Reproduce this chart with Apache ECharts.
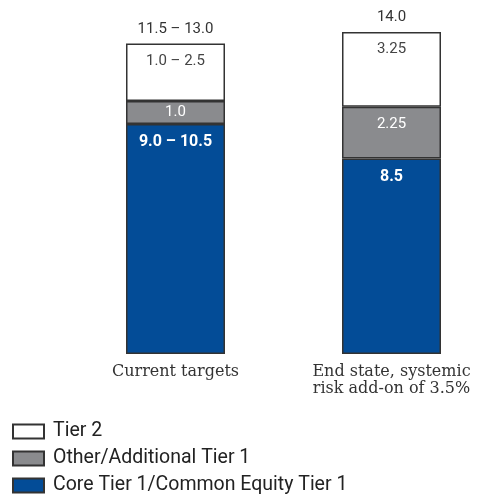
<!DOCTYPE html>
<html><head><meta charset="utf-8">
<script src="https://cdn.jsdelivr.net/npm/echarts@6/dist/echarts.min.js"></script>
<style>html,body{margin:0;padding:0;background:#fff;}#c{width:480px;height:495px;}</style>
</head><body><div id="c"></div>
<script>
var categories = ['Current targets', 'End state, systemic\nrisk add-on of 3.5%'];
var seriesNames = ['Tier 2', 'Other/Additional Tier 1', 'Core Tier 1/Common Equity Tier 1'];
var coreValues = [10.0, 8.5];
var otherValues = [1.0, 2.25];
var tier2Values = [2.5, 3.25];
var coreLabels = ['9.0 \u2013 10.5', '8.5'];
var otherLabels = ['1.0', '2.25'];
var tier2Labels = ['1.0 \u2013 2.5', '3.25'];
var totalLabels = ['11.5 \u2013 13.0', '14.0'];

var numFont = 'Roboto, "DejaVu Sans", sans-serif';
var border = '#333333';
function lbl(arr){ return function(p){ return arr[p.dataIndex]; }; }

var chart = echarts.init(document.getElementById('c'), null, {renderer:'canvas'});
chart.setOption({
  animation: false,
  grid: {left: 67.5, width: 432, top: 32, bottom: 141, outerBoundsMode: 'none', containLabel: false},
  xAxis: {
    type: 'category', data: categories,
    axisLine: {show: false}, axisTick: {show: false},
    axisLabel: {margin: 9, fontFamily: '"DejaVu Serif", "Liberation Serif", serif', fontSize: 16, color: '#333', lineHeight: 17, verticalAlign: 'top'}
  },
  yAxis: {type: 'value', min: 0, max: 14, show: false, splitLine: {show: false}},
  legend: {
    orient: 'vertical', left: 7, top: 416.5, height: 90, itemWidth: 31, itemHeight: 14, itemGap: 7,
    icon: 'rect',
    data: [seriesNames[0], seriesNames[1], seriesNames[2]],
    textStyle: {fontFamily: numFont, fontSize: 19.5, lineHeight: 19, color: '#222', padding: [0,0,0,4]}
  },
  series: [
    {name: seriesNames[2], type: 'bar', stack: 's', barWidth: 99, data: coreValues,
     itemStyle: {color: '#034c97', borderColor: border, borderWidth: 1.5},
     label: {show: true, position: 'insideTop', distance: 10, formatter: lbl(coreLabels), color: '#fff', fontWeight: 'bold', fontSize: 16, fontFamily: numFont}},
    {name: seriesNames[1], type: 'bar', stack: 's', data: otherValues.map(function(v,i){ return {value: v, label: {distance: i===0 ? 4 : 10}}; }),
     itemStyle: {color: '#8a8b8e', borderColor: border, borderWidth: 1.5},
     label: {show: true, position: 'insideTop', formatter: lbl(otherLabels), color: '#fff', fontSize: 15, fontFamily: numFont}},
    {name: seriesNames[0], type: 'bar', stack: 's', data: tier2Values,
     itemStyle: {color: '#fff', borderColor: border, borderWidth: 1.5},
     label: {show: true, position: 'insideTop', distance: 10, formatter: lbl(tier2Labels), color: '#444', fontSize: 15, fontFamily: numFont}},
    {name: 'total', type: 'bar', stack: 's', data: [0, 0],
     itemStyle: {color: 'rgba(0,0,0,0)', borderWidth: 0},
     label: {show: true, position: 'top', distance: 7, formatter: lbl(totalLabels), color: '#333', fontSize: 15, fontFamily: numFont}}
  ]
});
</script></body></html>
